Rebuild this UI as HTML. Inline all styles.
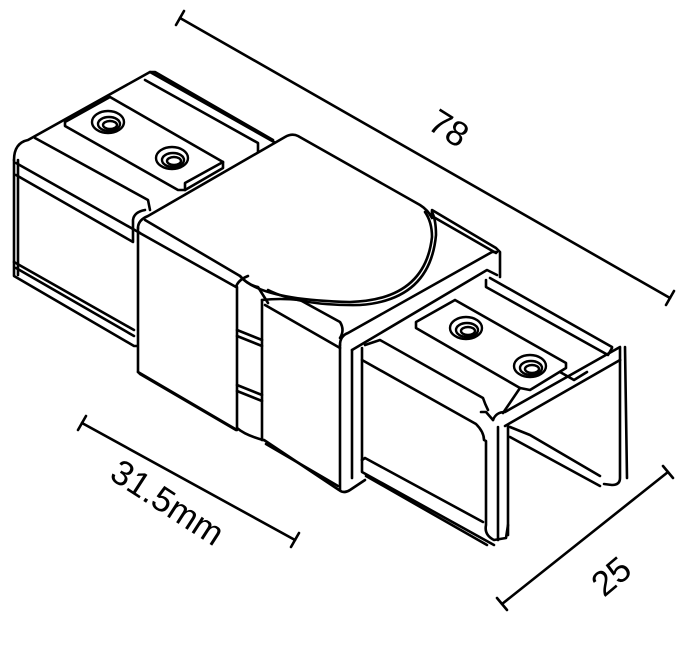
<!DOCTYPE html>
<html><head><style>html,body{margin:0;padding:0;background:#fff;width:683px;height:654px;overflow:hidden}</style></head>
<body>
<svg width="683" height="654" viewBox="0 0 683 654" xmlns="http://www.w3.org/2000/svg">
<g fill="none" stroke="#000" stroke-width="2.6" stroke-linejoin="round" stroke-linecap="round">
<!-- dimension 78 -->
<line x1="180" y1="18" x2="670" y2="298"/>
<line x1="176" y1="25" x2="184" y2="11"/>
<line x1="666" y1="305" x2="674" y2="291"/>
<!-- dimension 31.5 -->
<line x1="82" y1="423" x2="295" y2="540"/>
<line x1="78" y1="430" x2="86" y2="416"/>
<line x1="291" y1="547" x2="299" y2="533"/>
<!-- dimension 25 -->
<line x1="502" y1="604" x2="668" y2="472"/>
<line x1="497" y1="598" x2="507" y2="610"/>
<line x1="663" y1="466" x2="673" y2="478"/>

<!-- LEFT TUBE -->
<path d="M14,160 Q14,143 28,140 L150,72 L274,142"/>
<path d="M14,160 L14,276 L134,346 L137,346"/>
<path d="M18,160 L18,275"/>
<path d="M16,163 L140,233"/>
<path d="M16,175 L133,242 L133,220 Q134,212 145,210"/>
<path d="M14,262 L134,330"/>
<path d="M16,268 L134,336"/>
<path d="M35,138 L148,200 L150,210"/>
<path d="M150,72 L155,72 L273,140"/>
<path d="M145,80 L258,143 L258,152"/>
<!-- plate -->
<path d="M65,122 L110,97 L223,162 L223,168 L185,190 L178,190 L65,126 Z"/>
<path d="M185,190 L185,183 L223,162"/>
<g stroke-width="2.4">
<ellipse cx="108" cy="122" rx="16" ry="11"/>
<ellipse cx="109" cy="124" rx="11" ry="7"/>
<ellipse cx="110" cy="125" rx="7" ry="4"/>
<ellipse cx="172" cy="158" rx="16" ry="11"/>
<ellipse cx="173" cy="160" rx="11" ry="7"/>
<ellipse cx="174" cy="161" rx="7" ry="4"/>
</g>

<!-- CENTRAL BLOCK -->
<path d="M138,228 Q138,220 148,216 L285,137 Q292,133 298,136 L420,205 Q428,210 432,218 L432,210 L496,248 L500,252 L500,277"/>
<path d="M138,228 L138,372 L237,430"/>
<path d="M145,220 L240,276 Q248,285 258,287 L268,303"/>
<path d="M138,232 L236,287 Q238,280 248,276"/>
<path d="M237,287 L237,428 Q245,435 263,440"/>
<path d="M262,300 L262,440"/>
<path d="M240,276 Q260,300 350,302 Q425,300 432,237 Q432,222 425,212"/>
<path d="M268,290 Q300,306 360,305 Q430,300 436,235 Q436,220 432,212"/>
<path d="M262,300 Q280,298 300,300 L340,322 Q345,330 340,338"/>
<path d="M237,330 L262,340"/>
<path d="M237,336 L262,346"/>
<path d="M237,385 L262,395"/>
<path d="M237,391 L262,401"/>
<path d="M138,372 L140,374 L236,430"/>
<path d="M264,440 L339,490 Q344,494 350,490 L365,480"/>
<path d="M266,444 L338,486"/>
<path d="M265,305 L340,348"/>
<path d="M430,215 L496,253"/>

<!-- RIGHT FRAME -->
<path d="M340,345 Q340,336 348,333 L492,252 L497,252"/>
<path d="M340,345 L340,490"/>
<path d="M352,350 L352,478"/>
<path d="M352,350 L487,270 L497,275"/>

<!-- RIGHT CHANNEL -->
<path d="M362,348 L362,360 L476,424 Q484,432 484,440 L486,441 L486,525 Q484,535 494,540 L506,538 L508,525"/>
<path d="M362,360 L362,460"/>
<path d="M365,345 L380,340 L483,398 Q485,404 488,410"/>
<path d="M362,460 L362,472 L494,545"/>
<path d="M362,460 L365,458 L483,522"/>
<path d="M366,476 L487,545"/>
<path d="M493,420 Q496,412 505,412 L620,347 L620,360"/>
<path d="M498,427 L498,540"/>
<path d="M505,426 L620,360"/>
<path d="M508,425 L508,535"/>
<path d="M620,360 L620,478 Q620,485 612,485 L604,484"/>
<path d="M625,347 L627,478"/>
<path d="M510,427 L530,435 L600,476"/>
<path d="M510,437 L600,486"/>
<path d="M486,280 L486,287 L608,355 L612,348"/>
<path d="M490,278 L612,347"/>
<path d="M493,420 L486,412 L481,412"/>
<!-- right plate -->
<path d="M416,322 L455,300 L566,363 L566,368 L530,390 L520,388 L416,328 Z"/>
<path d="M503,413 L520,388"/>
<path d="M560,372 L574,380 L587,372"/>
<g stroke-width="2.4">
<ellipse cx="466" cy="328" rx="16" ry="11"/>
<ellipse cx="467" cy="330" rx="11" ry="7"/>
<ellipse cx="468" cy="331" rx="7" ry="4"/>
<ellipse cx="530" cy="366" rx="16" ry="11"/>
<ellipse cx="531" cy="368" rx="11" ry="7"/>
<ellipse cx="532" cy="369" rx="7" ry="4"/>
</g>
</g>
<g font-family="'Liberation Sans', sans-serif" font-size="35" fill="#000">
<text x="0" y="0" transform="translate(426,128) rotate(32)">78</text>
<text x="0" y="0" transform="translate(108,478) rotate(33)">31.5mm</text>
<text x="0" y="0" transform="translate(604,598) rotate(-40)">25</text>
</g>
</svg>
</body></html>
